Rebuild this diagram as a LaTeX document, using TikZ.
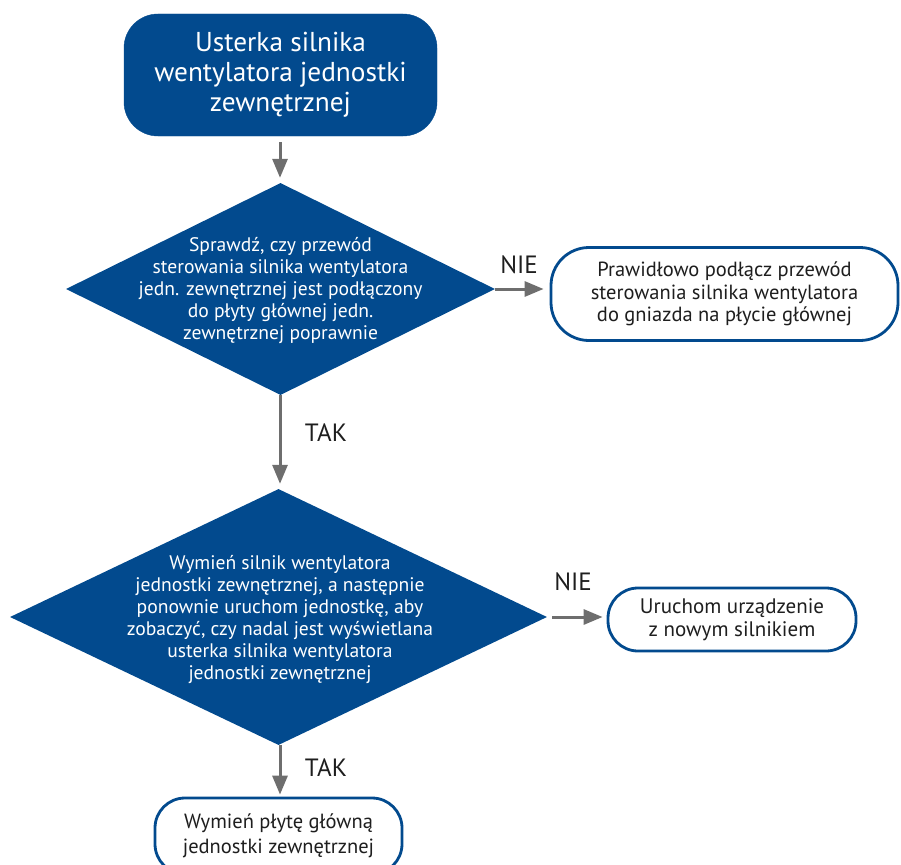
\documentclass[tikz,border=0pt]{standalone}
\usepackage{fontspec}
\setmainfont{PT Sans}
\usetikzlibrary{shapes.geometric,arrows.meta}
\definecolor{navy}{HTML}{024A8E}
\definecolor{arrgray}{HTML}{6E6E6E}
\definecolor{ink}{HTML}{1E1E1E}
\tikzset{
  startbox/.style={draw=navy,fill=navy,rounded corners=34pt,text=white,align=center,inner sep=0pt,
    font=\fontsize{27.3}{30}\selectfont},
  endbox/.style={draw=navy,line width=2.8pt,fill=white,text=ink,align=center,inner sep=0pt,
    font=\fontsize{20.5}{22.5}\selectfont},
  decision/.style={diamond,fill=navy,draw=none,inner sep=0pt},
  dtext/.style={text=white,align=center,inner sep=0pt,font=\fontsize{19.6}{22}\selectfont},
  arr/.style={draw=arrgray,line width=3pt,-{Triangle[length=19pt,width=15pt]}},
  answer/.style={text=ink,inner sep=0pt,font=\fontsize{25}{25}\selectfont}
}
\begin{document}
\begin{tikzpicture}[x=1pt,y=-1pt]
\useasboundingbox (0,0) rectangle (901,864);

% start block
\node[startbox,minimum width=313pt,minimum height=122pt] (start) at (280.5,75)
  {Usterka silnika\\wentylatora jednostki\\zewnętrznej};

% first check
\node[decision,minimum width=429pt,minimum height=212pt] (d1) at (280.5,289) {};
\node[dtext] (d1t) at (280.5,291)
  {Sprawdź, czy przewód\\sterowania silnika wentylatora\\jedn. zewnętrznej jest podłączony\\do płyty głównej jedn.\\zewnętrznej poprawnie};

\node[endbox,rounded corners=38pt,minimum width=347pt,minimum height=93pt] (fix) at (724.5,294)
  {Prawidłowo podłącz przewód\\sterowania silnika wentylatora\\do gniazda na płycie głównej};

% second check
\node[decision,minimum width=537pt,minimum height=256pt] (d2) at (278.5,617) {};
\node[dtext] (d2t) at (280,620)
  {Wymień silnik wentylatora\\jednostki zewnętrznej, a następnie\\ponownie uruchom jednostkę, aby\\zobaczyć, czy nadal jest wyświetlana\\usterka silnika wentylatora\\jednostki zewnętrznej};

\node[endbox,rounded corners=30pt,minimum width=248pt,minimum height=63pt,
      font=\fontsize{21}{23}\selectfont] (run) at (732,619.5)
  {Uruchom urządzenie\\z nowym silnikiem};

\node[endbox,rounded corners=30pt,minimum width=247pt,minimum height=76pt,
      font=\fontsize{20.5}{25}\selectfont] (board) at (278.5,836)
  {Wymień płytę główną\\jednostki zewnętrznej};

% connectors
\draw[arr,shorten <=6pt,shorten >=5pt] (start.south -| 280,0) -- (d1.north -| 280,0);
\draw[arr,shorten >=5pt] (d1.south -| 280,0) -- (d2.north -| 280,0);
\draw[arr,shorten >=6pt] (d1.east) -- (fix.west |- d1.east);
\draw[arr,shorten <=5pt,shorten >=4pt] (d2.east) -- (run.west |- d2.east);
\draw[arr,shorten >=2pt] (d2.south -| 280,0) -- (board.north -| 280,0);

% answer labels
\node[answer] (nie1) at (519,265) {NIE};
\node[answer] (tak1) at (326,433) {TAK};
\node[answer] (nie2) at (573,582) {NIE};
\node[answer] (tak2) at (326,768) {TAK};
\end{tikzpicture}
\end{document}
